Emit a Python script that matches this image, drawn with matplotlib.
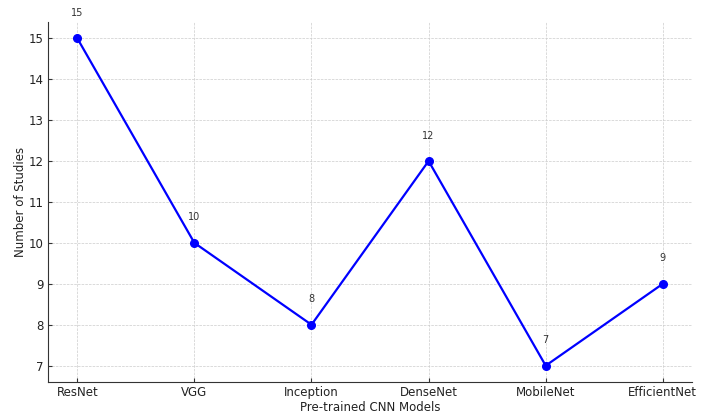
import matplotlib
matplotlib.use("Agg")
import matplotlib.pyplot as plt

models = ["ResNet", "VGG", "Inception", "DenseNet", "MobileNet", "EfficientNet"]
studies = [15, 10, 8, 12, 7, 9]

fig = plt.figure(figsize=(7.07, 4.13), dpi=100)
ax = fig.add_axes([0.0679, 0.075, 0.911, 0.872])

ax.plot(models, studies, color="blue", marker="o", linewidth=1.6, markersize=5.5)
for i, v in enumerate(studies):
    ax.text(i, v + 0.5, str(v), ha="center", va="bottom", fontsize=7, color="#333333")

ax.set_xlabel("Pre-trained CNN Models", fontsize=8.5, color="#222222", labelpad=1.5)
ax.set_ylabel("Number of Studies", fontsize=8.5, color="#222222", labelpad=1)
ax.grid(True, linestyle="--", linewidth=0.5, color="#cccccc")
ax.set_axisbelow(True)
for side in ("top", "right"):
    ax.spines[side].set_visible(False)
for side in ("left", "bottom"):
    ax.spines[side].set_color("#333333")
ax.tick_params(labelsize=8.5, colors="#333333", labelcolor="#222222",
               direction="in", length=3, pad=3)

fig.savefig("out.png", dpi=100)
